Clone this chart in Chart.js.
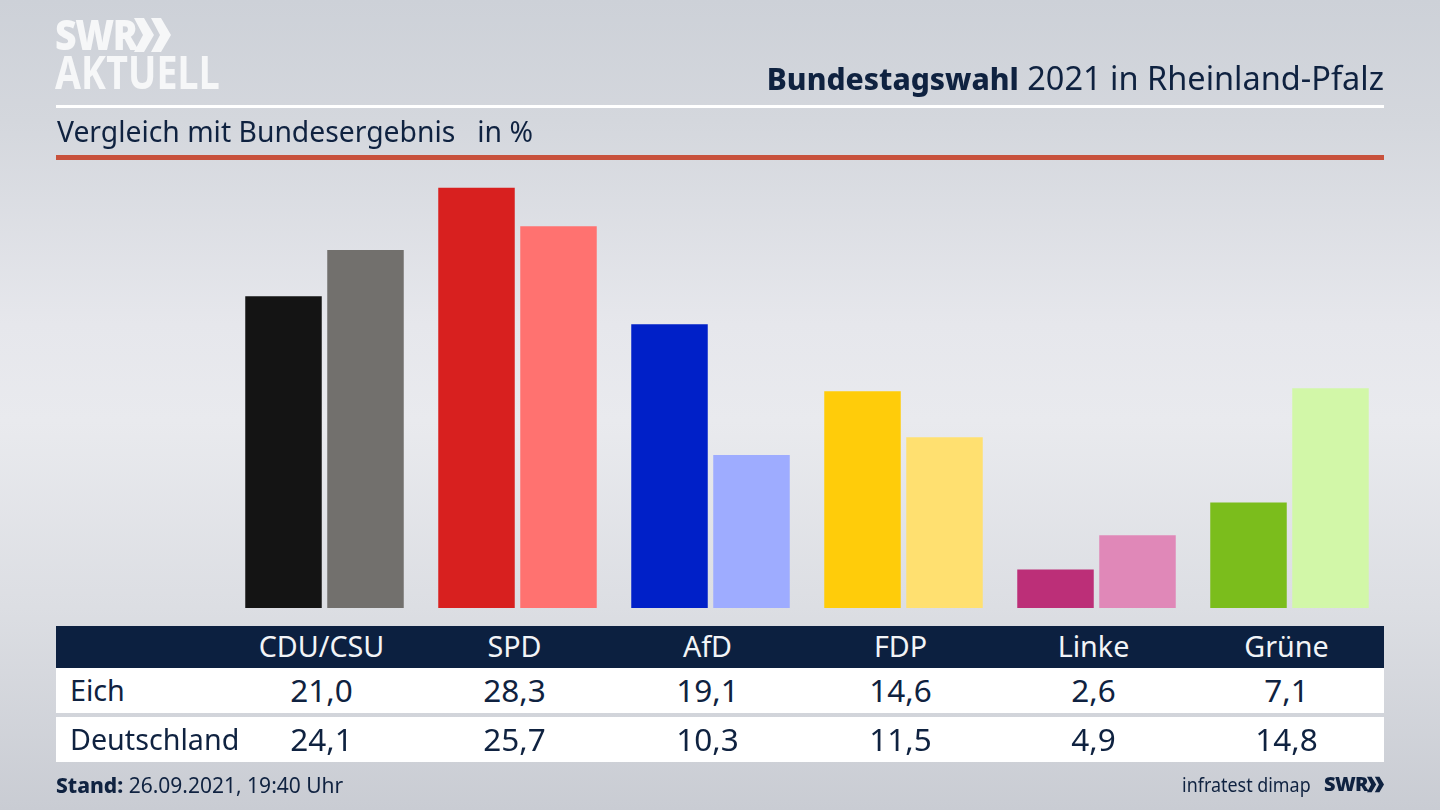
<!DOCTYPE html>
<html lang="de"><head><meta charset="utf-8">
<script src="https://cdn.jsdelivr.net/npm/chart.js@4"></script>
<style>
html,body{margin:0;padding:0;width:1440px;height:810px;overflow:hidden}
body{position:relative;font-family:"Noto Sans",sans-serif;color:#0f2240;
background:linear-gradient(180deg,#cdd1d8 0%,#d4d7dd 15%,#e6e7ec 40%,#e9eaee 52%,#dcdee3 75%,#c9ccd3 100%)}
canvas{position:absolute;left:0;top:0}
.t{position:absolute;white-space:nowrap;line-height:1}
.r{position:absolute;left:56px;width:1328px}
.c{transform:translateX(-50%)}
</style></head><body>
<canvas id="c" width="1440" height="810"></canvas>
<div class="t" style="left:55px;top:12px;font-size:43px;font-weight:900;color:#f6f7f8;letter-spacing:-1.5px;transform:scaleX(.87);transform-origin:left">SWR</div>
<svg style="position:absolute;left:134px;top:18px" width="37" height="34" viewBox="0 0 37 34"><path fill="#f6f7f8" d="M0 0h10l10 17-10 17H0l9-17zM17 0h10l10 17-10 17H17l9-17z"/></svg>
<div class="t" style="left:55px;top:48px;font-size:46px;font-weight:700;color:#f6f7f8;letter-spacing:.2px;transform:scaleX(.815);transform-origin:left">AKTUELL</div>
<div class="t" style="right:56px;top:62px;font-size:32.5px"><b style="font-weight:800;font-size:30px">Bundestagswahl</b> 2021 in Rheinland-Pfalz</div>
<div class="r" style="top:105px;height:3px;background:#fff"></div>
<div class="t" style="left:57px;top:117px;font-size:28.3px">Vergleich mit Bundesergebnis &nbsp; in %</div>
<div class="r" style="top:155px;height:5px;background:#c8513c"></div>
<div class="r" style="top:626px;height:42px;background:#0c2040"></div>
<div class="r" style="top:668px;height:45px;background:#fff"></div>
<div class="r" style="top:717px;height:45px;background:#fff"></div>
<div id="tbl"></div>
<div class="t" style="left:56px;top:775px;font-size:21px"><b style="font-weight:800">Stand:</b> 26.09.2021, 19:40 Uhr</div>
<div class="t" style="right:129px;top:775px;font-size:20px;transform:scaleX(.895);transform-origin:right">infratest dimap</div>
<div class="t" style="left:1324px;top:774px;font-size:20px;font-weight:900;letter-spacing:-.6px">SWR</div>
<svg style="position:absolute;left:1367px;top:776px" width="17" height="17" viewBox="0 0 37 34"><path fill="#0f2240" d="M0 0h10l10 17-10 17H0l9-17zM17 0h10l10 17-10 17H17l9-17z"/></svg>
<script>
const categories=["CDU/CSU","SPD","AfD","FDP","Linke","Grüne"];
const rowNames=["Eich","Deutschland"];
const eich=[21.0,28.3,19.1,14.6,2.6,7.1];
const deutschland=[24.1,25.7,10.3,11.5,4.9,14.8];
const eichColors=["#141414","#d8201f","#0020c8","#ffcc0a","#bc2f78","#7bbd1c"];
const deutschlandColors=["#72706d","#ff7270","#9eacff","#ffe070","#e088b8","#d2f7a8"];

Chart.defaults.animation=false;
const chart=new Chart(document.getElementById("c"),{
  type:"bar",
  data:{labels:categories,datasets:[
    {label:rowNames[0],data:eich,backgroundColor:eichColors,borderWidth:0},
    {label:rowNames[1],data:deutschland,backgroundColor:deutschlandColors,borderWidth:0}
  ]},
  options:{
    responsive:false,animation:false,
    layout:{padding:{left:228,right:54,top:162.5,bottom:202}},
    categoryPercentage:0.8497,barPercentage:0.933,
    plugins:{legend:{display:false},tooltip:{enabled:false},title:{display:false}},
    scales:{x:{display:false},y:{display:false,min:0,max:30}}
  }
});
const tbl=document.getElementById("tbl");
const fmt=v=>v.toFixed(1).replace(".",",");
function put(txt,x,top,size,color,center){
  const d=document.createElement("div");
  d.className="t"+(center?" c":"");
  d.style.cssText+=`left:${x}px;top:${top}px;font-size:${size}px;color:${color}`;
  d.textContent=txt;tbl.appendChild(d);
}
categories.forEach((n,i)=>{
  const x=chart.scales.x.getPixelForValue(i)-3;
  put(n,x,632,28.7,"#f2f4f7",true);
  put(fmt(eich[i]),x,674,31.5,"#0f2240",true);
  put(fmt(deutschland[i]),x,723,31.5,"#0f2240",true);
});
put(rowNames[0],70,676,28.7,"#0f2240",false);
put(rowNames[1],70,725,28.7,"#0f2240",false);
</script>
</body></html>
